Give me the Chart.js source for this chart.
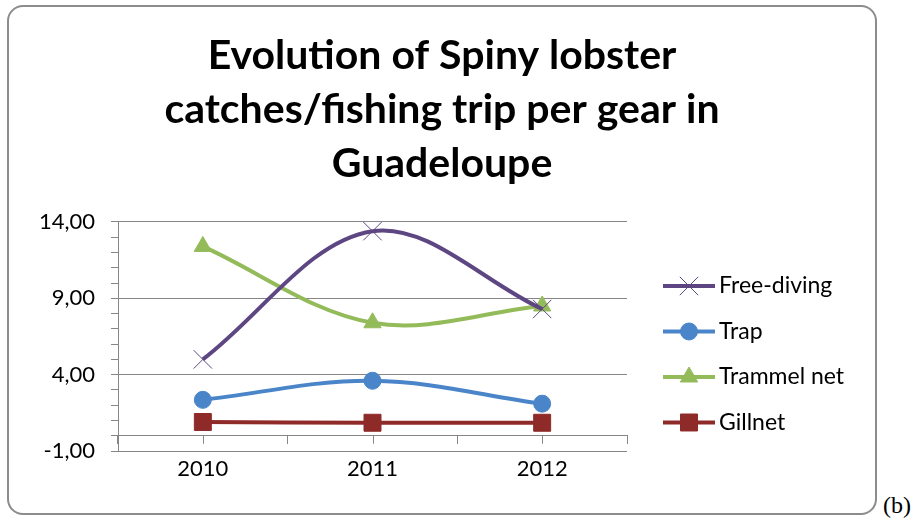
<!DOCTYPE html>
<html>
<head>
<meta charset="utf-8">
<script src="https://cdn.jsdelivr.net/npm/chart.js@4.4.1/dist/chart.umd.min.js"></script>
<style>
body{margin:0;background:#fff;width:919px;height:521px;position:relative;overflow:hidden;}
#frame{position:absolute;left:7px;top:5px;width:866px;height:506px;border:2px solid #8c8c8c;border-radius:16px;overflow:hidden;}
#tag{position:absolute;left:883px;top:492px;font-family:"Liberation Serif",serif;font-size:24px;color:#000;}
</style>
</head>
<body>
<div id="frame"><canvas id="lobsterChart" width="866" height="506"></canvas></div>
<div id="tag">(b)</div>
<script>

const years = ["2010", "2011", "2012"];

const freeDiving = [5.0, 13.4, 8.3];
const trap = [2.35, 3.6, 2.1];
const trammelNet = [12.4, 7.4, 8.5];
const gillnet = [0.9, 0.85, 0.85];

const seriesNames = ["Free-diving", "Trap", "Trammel net", "Gillnet"];

// y axis: -1,00 .. 14,00, labelled every 5, minor marks every 1
const Y_MIN = -1;
const Y_MAX = 14;
const Y_MAJOR = 5;

const titleLines = [
    "Evolution of Spiny lobster",
    "catches/fishing trip per gear in",
    "Guadeloupe"
];

const AXIS_GREY = "#868686";

function isMajor(v){
    return ((v - Y_MIN) % Y_MAJOR) === 0;
}

// legend drawn as Excel does it: short line with the marker in the middle
const lineLegend = {
    id:"lineLegend",
    afterDraw(chart){
        const ctx = chart.ctx;
        const area = chart.chartArea;
        ctx.save();
        chart.data.datasets.forEach((ds, i)=>{
            const y = area.top + 64 + i * 45.5;
            const x0 = area.right + 36;
            ctx.strokeStyle = ds.borderColor;
            ctx.lineWidth = 4;
            ctx.beginPath();
            ctx.moveTo(x0, y);
            ctx.lineTo(x0 + 52, y);
            ctx.stroke();
            ctx.fillStyle = ds.pointBackgroundColor;
            ctx.strokeStyle = ds.pointBorderColor;
            ctx.lineWidth = ds.pointBorderWidth;
            Chart.helpers.drawPoint(ctx, {
                pointStyle:ds.pointStyle,
                radius:ds.pointRadius,
                rotation:0,
                borderWidth:ds.pointBorderWidth
            }, x0 + 26, y);
            ctx.fillStyle = "#000";
            ctx.font = "23px Lato";
            ctx.textAlign = "left";
            ctx.textBaseline = "middle";
            ctx.fillText(ds.label, x0 + 56, y);
        });
        ctx.restore();
    }
};

// small marks under the category names too
const centerTicks = {
    id:"centerTicks",
    afterDraw(chart){
        const xs = chart.scales.x;
        const y0 = chart.scales.y.getPixelForValue(0);
        const ctx = chart.ctx;
        ctx.save();
        ctx.strokeStyle = AXIS_GREY;
        ctx.lineWidth = 1;
        xs.ticks.forEach((t, i)=>{
            const px = Math.round(xs.getPixelForTick(i)) + 0.5;
            ctx.beginPath();
            ctx.moveTo(px, y0);
            ctx.lineTo(px, y0 + 8);
            ctx.stroke();
        });
        ctx.restore();
    }
};

const ctx = document.getElementById("lobsterChart").getContext("2d");

new Chart(ctx, {
    type:"line",
    data:{
        labels:years,
        datasets:[
            {
                label:seriesNames[0],
                data:freeDiving,
                borderColor:"#5d4682",
                pointBackgroundColor:"#5d4682",
                pointBorderColor:"#5d4682",
                pointStyle:"crossRot",
                pointRadius:13,
                pointBorderWidth:1
            },
            {
                label:seriesNames[1],
                data:trap,
                borderColor:"#4a85c9",
                pointBackgroundColor:"#4a85c9",
                pointBorderColor:"#4a85c9",
                pointStyle:"circle",
                pointRadius:8.5,
                pointBorderWidth:1
            },
            {
                label:seriesNames[2],
                data:trammelNet,
                borderColor:"#94bb5a",
                pointBackgroundColor:"#94bb5a",
                pointBorderColor:"#94bb5a",
                pointStyle:"triangle",
                pointRadius:10,
                pointBorderWidth:1
            },
            {
                label:seriesNames[3],
                data:gillnet,
                borderColor:"#8e2b29",
                pointBackgroundColor:"#8e2b29",
                pointBorderColor:"#8e2b29",
                pointStyle:"rect",
                pointRadius:12,
                pointBorderWidth:1
            }
        ]
    },
    options:{
        responsive:false,
        animation:false,
        layout:{
            padding:{left:0, right:0, top:0, bottom:62}
        },
        elements:{
            line:{borderWidth:4, tension:0.35, fill:false}
        },
        plugins:{
            legend:{display:false},
            tooltip:{enabled:false},
            title:{
                display:true,
                text:titleLines,
                color:"#000",
                font:{family:"Lato", size:41, weight:"bold", lineHeight:1.317},
                padding:{top:22, bottom:31}
            }
        },
        scales:{
            y:{
                min:Y_MIN,
                max:Y_MAX,
                afterFit(scale){
                    scale.width = 109;
                },
                ticks:{
                    stepSize:1,
                    autoSkip:false,
                    padding:16,
                    color:"#000",
                    font:{family:"Lato", size:22},
                    callback(value){
                        return isMajor(value) ? value.toFixed(2).replace(".", ",") : "";
                    }
                },
                grid:{
                    color:(c)=> isMajor(c.tick.value) ? AXIS_GREY : "rgba(0,0,0,0)",
                    tickColor:AXIS_GREY,
                    tickLength:7,
                    lineWidth:1
                },
                border:{color:AXIS_GREY}
            },
            // empty axis on the right that keeps room for the legend
            legendRoom:{
                position:"right",
                afterFit(scale){
                    scale.width = 248;
                },
                ticks:{display:false},
                grid:{display:false},
                border:{display:false}
            },
            x:{
                type:"category",
                offset:true,
                position:{y:0},
                ticks:{
                    color:"#000",
                    font:{family:"Lato", size:22},
                    padding:12
                },
                grid:{
                    offset:true,
                    drawOnChartArea:false,
                    tickLength:8,
                    tickColor:AXIS_GREY
                },
                border:{color:AXIS_GREY}
            }
        }
    },
    plugins:[centerTicks, lineLegend]
});

</script>
</body>
</html>
